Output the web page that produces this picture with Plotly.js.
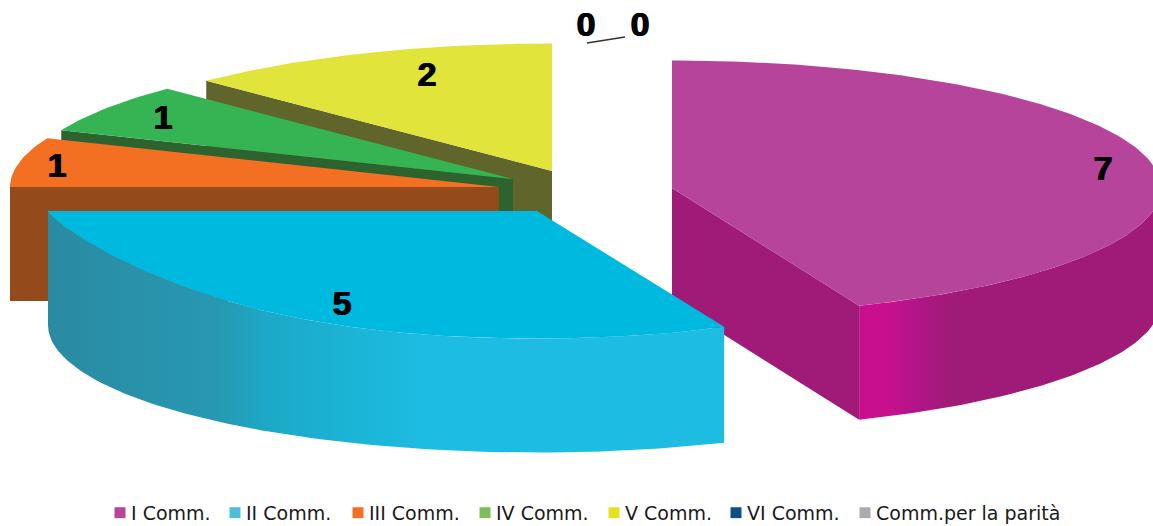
<!DOCTYPE html>
<html>
<head>
<meta charset="utf-8">
<script src="https://cdn.plot.ly/plotly-3.0.1.min.js"></script>
<style>html,body{margin:0;padding:0;background:#fff}#chart{width:1153px;height:526px}</style>
</head>
<body>
<div id="chart"></div>
<script>
// Data
const categories = ['I Comm.','II Comm.','III Comm.','IV Comm.','V Comm.','VI Comm.','Comm.per la parità'];
const values = [7,5,1,1,2,0,0];

// Styles
const legendColors = ['#B5449A','#4DBEDA','#F37021','#7CBF5A','#E6E221','#0D4F84','#ABABAF'];
const topColors = ['#B5449A','#00B9DE','#F36F21','#36B454','#E1E43B','#0D4F84','#ABABAF'];
const wallColors = ['#A01A78','#1DBDE3','#934B1C','#2C632F','#5F652B','#0D4F84','#ABABAF'];
const arcGradients = [
  [[0,'#C8108C'],[0.1,'#C8108C'],[0.17,'#B5148A'],[0.3,'#A01A78'],[1,'#A01A78']],
  [[0,'#2A8AA2'],[0.25,'#2898B2'],[0.32,'#1CA8C6'],[0.45,'#1BB4D6'],[0.57,'#1DBDE3'],[1,'#1DBDE3']],
  null,null,null,null,null
];

// Exploded-pie projection (pixel axes)
const centerX = [672,537,499,513,552,552,552];
const centerY = [188,211,187,179,171,171,171];
const radiusX = 489, radiusY = 127.5, depth = 114;
const topFlatten = [0,0.82,0,0,0,0,0];
const drawOrder = [4,3,2,0,1];

// Label layout
const labelX = [1103,342,57,163,427,586,640];
const labelY = [171,306,168,120,77,27,27];
const leaderX = [587,625];
const leaderY = [43,37];
const legendPitch = [115,123,127,129,122,129,245];

const total = values.reduce((a,b)=>a+b,0);
const starts = []; let acc = 0;
values.forEach(v=>{starts.push(acc/total*360); acc+=v;});
const rad = d=>d*Math.PI/180;
const px = (i,a)=>centerX[i]+radiusX*Math.sin(rad(a));
const py = (i,a)=>centerY[i]-radiusY*Math.cos(rad(a));
// top rim of a slice, optionally flattened where the artwork's rim is straighter
const pyTop = (i,a)=>{
  const c=-Math.cos(rad(a));
  if(c<=0 || !topFlatten[i]) return py(i,a);
  return centerY[i]+radiusY*c*(1-topFlatten[i]*Math.pow(1-c,1.5));
};
function arcAngles(a0,a1){const out=[];const n=Math.max(2,Math.ceil((a1-a0)));for(let k=0;k<=n;k++)out.push(a0+(a1-a0)*k/n);return out;}

const traces = [];
function poly(xs,ys,color,gradient,name){
  const t={type:'scatter',mode:'lines',x:xs,y:ys,fill:'toself',line:{width:0,color:color},
    fillcolor:color,showlegend:false,hoverinfo:'skip',name:name};
  if(gradient){
    t.fillgradient={type:'horizontal',colorscale:gradient,start:Math.min(...xs),stop:Math.max(...xs)};
    delete t.fillcolor;
  }
  traces.push(t);
}
drawOrder.forEach(i=>{
  const a0=starts[i], a1=starts[i]+values[i]/total*360;
  const wallA = a1<=180 ? a1 : (a0>=180 ? a0 : null);
  if(wallA!==null){
    const ex=px(i,wallA), ey=py(i,wallA);
    poly([centerX[i],ex,ex,centerX[i],centerX[i]],[centerY[i],ey,ey+depth,centerY[i]+depth,centerY[i]],wallColors[i],null,categories[i]);
  }
  const fa0=Math.max(a0,90), fa1=Math.min(a1,270);
  if(fa1>fa0){
    const as=arcAngles(fa0,fa1);
    const rev=as.slice().reverse();
    poly(as.map(a=>px(i,a)).concat(rev.map(a=>px(i,a))),
         as.map(a=>pyTop(i,a)).concat(rev.map(a=>py(i,a)+depth)),wallColors[i],arcGradients[i],categories[i]);
  }
  const as=arcAngles(a0,a1);
  poly([centerX[i]].concat(as.map(a=>px(i,a)),[centerX[i]]),[centerY[i]].concat(as.map(a=>pyTop(i,a)),[centerY[i]]),topColors[i],null,categories[i]);
});

traces.push({type:'scatter',mode:'lines',x:leaderX,y:leaderY,line:{color:'#333',width:1.5},showlegend:false,hoverinfo:'skip'});
traces.push({type:'scatter',mode:'text',x:labelX,y:labelY,text:values.map(String),textposition:'middle center',
  textfont:{family:'Liberation Sans, Arial, sans-serif',size:34,color:'#000',weight:700,shadow:'0.6px 0 0 #000, -0.6px 0 0 #000'},
  showlegend:false,hoverinfo:'skip'});
categories.forEach((c,i)=>{
  traces.push({type:'scatter',mode:'markers',x:[null],y:[null],name:c,legendwidth:legendPitch[i]-45,
    marker:{symbol:'square',size:11,color:legendColors[i]},showlegend:true,hoverinfo:'skip'});
});

const layout = {
  width:1153,height:526,margin:{l:0,r:0,t:0,b:0,autoexpand:false},
  paper_bgcolor:'#fff',plot_bgcolor:'#fff',
  xaxis:{range:[0,1153],visible:false,fixedrange:true},
  yaxis:{range:[526,0],visible:false,fixedrange:true},
  showlegend:true,
  legend:{orientation:'h',x:100/1153,xanchor:'left',y:-0.011,yanchor:'bottom',bgcolor:'rgba(0,0,0,0)',
    font:{family:'DejaVu Sans, sans-serif',size:19,color:'#1a1a1a'},tracegroupgap:0}
};
Plotly.newPlot('chart',traces,layout,{displayModeBar:false,staticPlot:true}).then(()=>{
  document.querySelectorAll('#chart .legendtext').forEach(t=>t.setAttribute('x','31'));
});
</script>
</body>
</html>
